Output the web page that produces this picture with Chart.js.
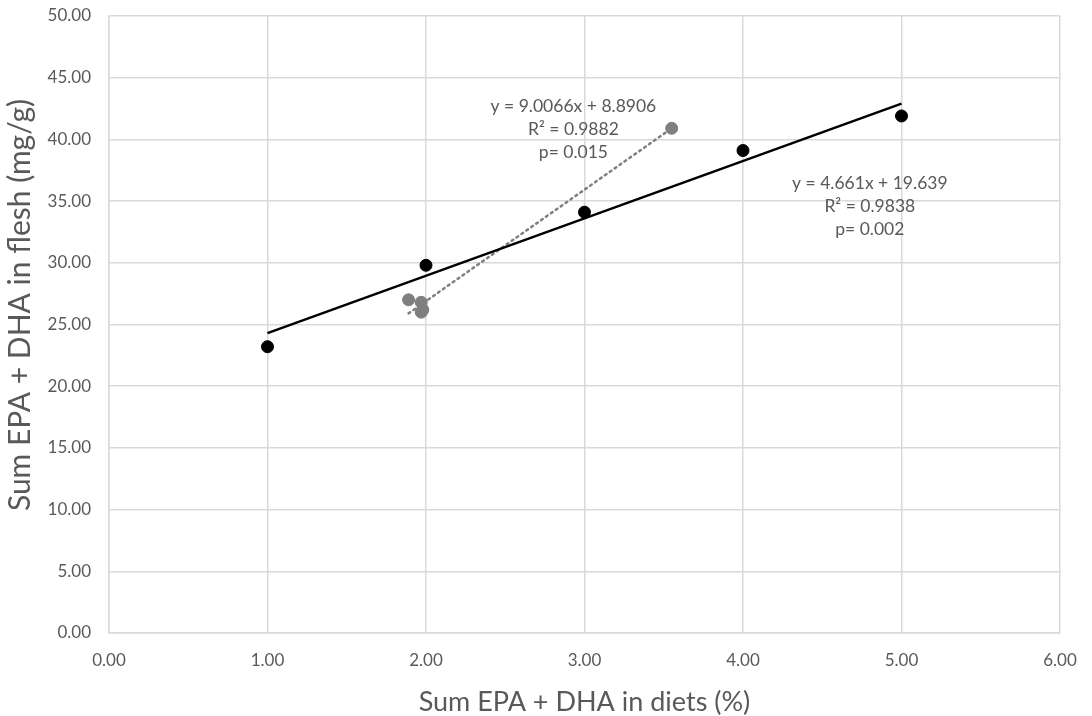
<!DOCTYPE html>
<html>
<head>
<meta charset="utf-8">
<script src="https://cdn.jsdelivr.net/npm/chart.js@4.4.1/dist/chart.umd.min.js"></script>
<style>
  html, body { margin: 0; padding: 0; background: #fff; }
  #wrap { width: 1092px; height: 716px; }
</style>
</head>
<body>
<div id="wrap"><canvas id="chart" width="1092" height="716"></canvas></div>
<script>
// 黑点：饲料 EPA+DHA 与肉中含量
const dietX = [1.00, 2.00, 3.00, 4.00, 5.00];
const fleshY = [23.2, 29.8, 34.1, 39.1, 41.9];

// 灰点
const greyX = [1.89, 1.97, 1.97, 1.98, 3.55];
const greyY = [27.0, 26.8, 26.0, 26.2, 40.9];

// 趋势线端点
const blackTrendX = [1.00, 5.00];
const blackTrendY = [24.3, 42.9];
const greyTrendX = [1.89, 3.55];
const greyTrendY = [25.9, 40.9];

// 注释文字
const greyLabel = ['y = 9.0066x + 8.8906', 'R² = 0.9882', 'p= 0.015'];
const greyLabelAt = [2.93, 42.7];
const blackLabel = ['y = 4.661x + 19.639', 'R² = 0.9838', 'p= 0.002'];
const blackLabelAt = [4.80, 36.4];

const xTicks = [0, 1, 2, 3, 4, 5, 6];
const yTicks = [0, 5, 10, 15, 20, 25, 30, 35, 40, 45, 50];
const yTitle = 'Sum EPA + DHA in flesh (mg/g)';
const xTitle = 'Sum EPA + DHA in diets (%)';

const toPts = (xs, ys) => xs.map((x, i) => ({ x: x, y: ys[i] }));

const FONT = 'Lato, "Open Sans", sans-serif';
const TEXT = '#595959';
const GRID = '#d9d9d9';

const labelPlugin = {
    id: 'eqLabels',
    afterDatasetsDraw(chart) {
        const ctx = chart.ctx;
        const xs = chart.scales.x, ys = chart.scales.y;
        ctx.save();
        ctx.font = '17.5px ' + FONT;
        ctx.fillStyle = TEXT;
        ctx.textAlign = 'center';
        ctx.textBaseline = 'middle';
        [[greyLabel, greyLabelAt], [blackLabel, blackLabelAt]].forEach(([lines, at]) => {
            const px = xs.getPixelForValue(at[0]);
            const py = ys.getPixelForValue(at[1]);
            lines.forEach((t, i) => ctx.fillText(t, px, py + i * 23));
        });
        // y 轴标题
        ctx.translate(20, 305);
        ctx.rotate(-Math.PI / 2);
        ctx.font = '30px ' + FONT;
        ctx.fillText(yTitle, 0, 0);
        ctx.restore();
    }
};

new Chart(document.getElementById('chart'), {
    type: 'scatter',
    data: {
        datasets: [
            {
                type: 'line', data: toPts(blackTrendX, blackTrendY),
                borderColor: '#000', borderWidth: 2.5, pointRadius: 0, fill: false
            },
            {
                type: 'line', data: toPts(greyTrendX, greyTrendY),
                borderColor: '#808080', borderWidth: 2.5, borderDash: [2, 4], borderCapStyle: 'round',
                pointRadius: 0, fill: false
            },
            {
                data: toPts(greyX, greyY),
                backgroundColor: '#7f7f7f', borderColor: '#7f7f7f', pointRadius: 6
            },
            {
                data: toPts(dietX, fleshY),
                backgroundColor: '#000', borderColor: '#000', pointRadius: 6
            }
        ]
    },
    options: {
        responsive: false,
        animation: false,
        layout: { padding: { top: 16, right: 32, left: 0, bottom: 0 } },
        plugins: { legend: { display: false }, tooltip: { enabled: false } },
        scales: {
            x: {
                type: 'linear', min: 0, max: 6,
                afterBuildTicks: s => { s.ticks = xTicks.map(v => ({ value: v })); },
                afterFit: s => { s.height = 83; s.paddingLeft = 0; s.paddingRight = 0; },
                grid: { color: GRID, lineWidth: 1.5, drawTicks: false },
                border: { color: GRID, width: 1.5 },
                ticks: { padding: 17, color: TEXT, font: { family: FONT, size: 17 }, callback: v => v.toFixed(2) },
                title: { display: true, text: xTitle, color: TEXT,
                         font: { family: FONT, size: 27, lineHeight: 1.0 }, padding: { top: 0, bottom: 0 } }
            },
            y: {
                type: 'linear', min: 0, max: 50,
                afterBuildTicks: s => { s.ticks = yTicks.map(v => ({ value: v })); },
                afterFit: s => { s.width = 109; s.paddingTop = 0; s.paddingBottom = 0; },
                grid: { color: GRID, lineWidth: 1.5, drawTicks: false },
                border: { color: GRID, width: 1.5 },
                ticks: { padding: 18, color: TEXT, font: { family: FONT, size: 17 }, callback: v => v.toFixed(2) },
                title: { display: false }
            }
        }
    },
    plugins: [labelPlugin]
});
</script>
</body>
</html>
